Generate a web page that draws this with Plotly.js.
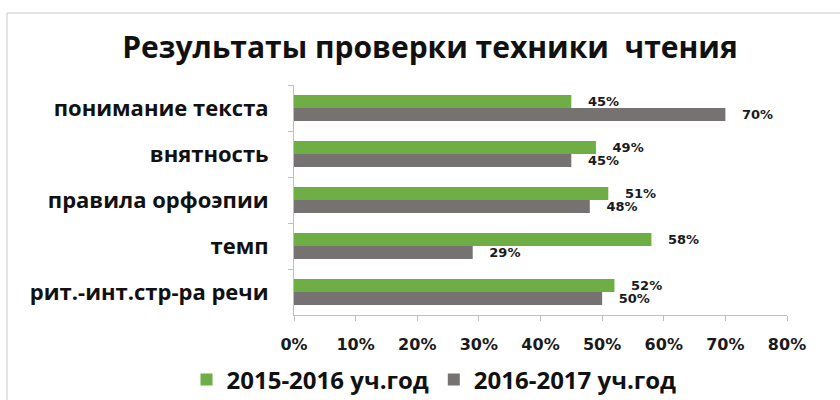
<!DOCTYPE html>
<html><head><meta charset="utf-8">
<script src="https://cdn.plot.ly/plotly-3.0.1.min.js"></script>
<style>html,body{margin:0;padding:0;background:#fff}#chart{width:840px;height:400px}</style>
</head><body><div id="chart"></div>
<script>
const categories = ["понимание текста", "внятность", "правила орфоэпии", "темп", "рит.-инт.стр-ра речи"];
const series1Name = "2015-2016 уч.год";
const series2Name = "2016-2017 уч.год";
const series1 = [45, 49, 51, 58, 52];
const series2 = [70, 45, 48, 29, 50];
const xTicks = [0, 10, 20, 30, 40, 50, 60, 70, 80];
const xTickLabels = xTicks.map(v => v + "%");

const labelFont = {family: "DejaVu Sans", size: 13, color: "#1a1a1a", weight: "bold"};
function trace(name, vals, color) {
  return {
    type: "bar", orientation: "h", name: name,
    y: categories, x: vals,
    marker: {color: color},
    text: vals.map(v => "\u00a0\u00a0\u00a0" + v + "%"),
    textposition: "outside", textfont: labelFont,
    constraintext: "none", cliponaxis: false,
    hoverinfo: "x+y"
  };
}
const data = [trace(series1Name, series1, "#6fae45"), trace(series2Name, series2, "#767272")];

const L = 294, R = 787, T = 85, B = 315;
const pw = R - L, ph = B - T;
const px = v => (v - L) / pw, py = v => (B - v) / ph;

const layout = {
  width: 840, height: 400,
  margin: {l: L, r: 840 - R, t: T, b: 400 - B, autoexpand: false},
  paper_bgcolor: "#fff", plot_bgcolor: "#fff",
  title: {text: "Результаты проверки техники\u00a0\u00a0чтения",
    font: {family: "Open Sans", size: 30, color: "#111", weight: "bold"},
    x: 430 / 840, xanchor: "center", y: 1 - 47 / 400, yanchor: "middle"},
  barmode: "group", bargap: 0.43, bargroupgap: 0,
  xaxis: {range: [0, 80], tickvals: xTicks, ticktext: xTickLabels,
    showgrid: false, zeroline: false, showline: true, linecolor: "#bfbfbf", linewidth: 1,
    ticks: "outside", ticklen: 5, tickcolor: "#bfbfbf", ticklabelstandoff: 10,
    tickfont: {family: "DejaVu Sans", size: 16, color: "#1a1a1a", weight: "bold"}, fixedrange: true},
  yaxis: {type: "category", autorange: "reversed", tickson: "boundaries",
    showgrid: false, zeroline: false, showline: true, linecolor: "#bfbfbf", linewidth: 1,
    ticks: "outside", ticklen: 5, tickcolor: "#bfbfbf", ticklabelstandoff: 20,
    tickfont: {family: "Open Sans", size: 22, color: "#111", weight: "bold"}, fixedrange: true},
  showlegend: true,
  legend: {orientation: "h", xref: "container", yref: "container",
    x: 434 / 840, xanchor: "center", y: 1 - 380 / 400, yanchor: "middle",
    font: {family: "Open Sans", size: 24, color: "#111", weight: "bold"},
    itemwidth: 30, tracegroupgap: 0, bgcolor: "rgba(0,0,0,0)"},
  shapes: [
    {type: "line", xref: "paper", yref: "paper", x0: px(7), x1: px(845), y0: py(13), y1: py(13), line: {color: "#c8c8c8", width: 1}},
    {type: "line", xref: "paper", yref: "paper", x0: px(7), x1: px(7), y0: py(13), y1: py(405), line: {color: "#c8c8c8", width: 1}}
  ]
};
Plotly.newPlot("chart", data, layout, {displayModeBar: false, staticPlot: true});
</script></body></html>
